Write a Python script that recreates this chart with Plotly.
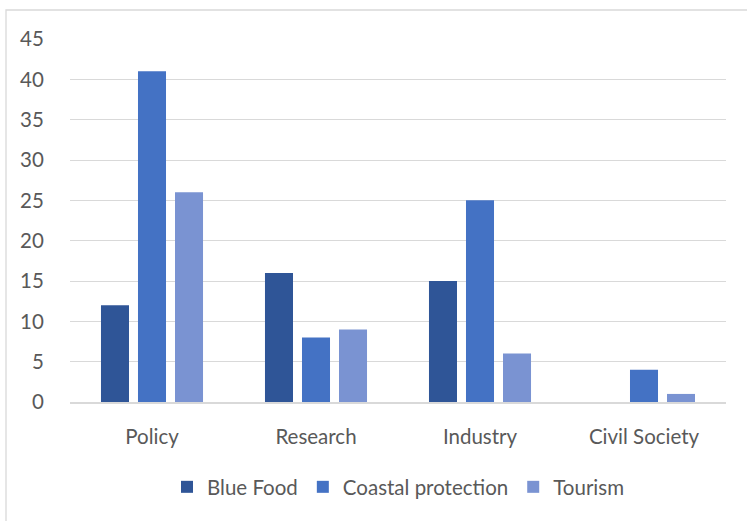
import plotly.graph_objects as go

categories = ["Policy", "Research", "Industry", "Civil Society"]
blue_food = [12, 16, 15, 0]
coastal_protection = [41, 8, 25, 4]
tourism = [26, 9, 6, 1]
y_ticks = [0, 5, 10, 15, 20, 25, 30, 35, 40, 45]

series = [
    ("Blue Food", blue_food, "#2F5597"),
    ("Coastal protection", coastal_protection, "#4472C4"),
    ("Tourism", tourism, "#7A93D2"),
]

fig = go.Figure()
for name, values, color in series:
    fig.add_trace(go.Bar(
        name=name, x=categories, y=values,
        marker=dict(color=color, line=dict(width=0)),
    ))

W, H = 747, 521
L, R, T, B = 70, 21, 39, 119
pw, ph = W - L - R, H - T - B

# light chart-area frame: left edge at x=6px, top edge at y=10px
fig.add_shape(
    type="rect", xref="paper", yref="paper",
    x0=(6 - L) / pw, x1=(W + 10 - L) / pw,
    y0=-1.0, y1=(H - B - 10) / ph,
    line=dict(color="#D9D9D9", width=1.3), fillcolor="rgba(0,0,0,0)", layer="below",
)

font = dict(family="Lato, Open Sans, sans-serif", size=20.5, color="#595959")

fig.update_layout(
    width=W, height=H,
    margin=dict(l=L, r=R, t=T, b=B),
    paper_bgcolor="white", plot_bgcolor="white",
    barmode="group", bargap=0.323, bargroupgap=0.243,
    font=font,
    showlegend=True,
    legend=dict(
        orientation="h", x=0.5, xanchor="center", y=-(487 - (H - B)) / ph,
        yanchor="middle", font=font, traceorder="normal",
    ),
    xaxis=dict(
        showgrid=False, showline=True, linecolor="#D9D9D9", linewidth=1.5,
        ticks="outside", ticklen=16, tickcolor="rgba(0,0,0,0)",
        tickfont=font,
    ),
    yaxis=dict(
        range=[0, 45], tickvals=y_ticks, showgrid=True, gridcolor="#D9D9D9",
        gridwidth=1.3, zeroline=False, showline=False,
        ticks="outside", ticklen=21, tickcolor="rgba(0,0,0,0)",
        tickfont=font,
    ),
)

fig.write_html("out.html")
